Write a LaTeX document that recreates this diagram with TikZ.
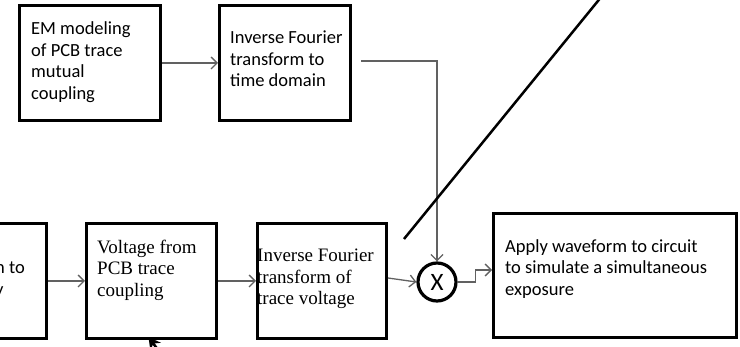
\documentclass[tikz,border=0pt]{standalone}
\usepackage{fontspec}
\setmainfont{Carlito}
\newfontfamily\serifb{Liberation Serif}
\usetikzlibrary{arrows.meta}
\begin{document}
\begin{tikzpicture}[x=1pt,y=-1pt,
  box/.style={draw, line width=3pt, inner sep=0pt, rectangle},
  txt/.style={inner sep=0pt, align=left, font=\fontsize{18.5}{21.5}\selectfont, anchor=west},
  stxt/.style={inner sep=0pt, align=left, font=\serifb\fontsize{19}{21.5}\selectfont, anchor=west},
  conn/.style={draw=black!62, line width=1.3pt, -{Straight Barb[length=6pt,width=12pt]}},
  ]
\useasboundingbox (0,0) rectangle (740,347);
\clip (0,0) rectangle (740,347);

% boxes
\node[box, minimum width=141pt, minimum height=115pt] (b1) at (90,63) {};
\node[box, minimum width=131pt, minimum height=115pt] (b2) at (285,63) {};
\node[box, minimum width=96.5pt, minimum height=115pt] (part) at (-1.75,281) {};
\node[box, minimum width=130pt, minimum height=115pt] (volt) at (151.5,281) {};
\node[box, minimum width=129pt, minimum height=115pt] (bif) at (322,281) {};
\node[box, minimum width=243pt, minimum height=124pt] (apply) at (615,275.5) {};
\node[circle, draw, line width=3.2pt, minimum size=38pt, inner sep=0pt,
      font=\fontsize{25}{25}\selectfont] (circ) at (437,282) {X};

% texts
\node[txt] (t1) at (31,62) {EM modeling\\of PCB trace\\mutual\\coupling};
\node[txt] (t2) at (230,59) {Inverse Fourier\\transform to\\time domain};
\node[txt] (tp) at (-5,280) {n to\\y};
\node[stxt] (tv) at (97,270) {Voltage from\\PCB trace\\coupling};
\node[stxt] (tb) at (257,279) {Inverse Fourier\\transform of\\trace voltage};
\node[txt] (ta) at (505,269) {Apply waveform to circuit\\to simulate a simultaneous\\exposure};

% connectors
\draw[conn] (b1.east) -- (b2.west);
\draw[conn, shorten <=9pt] ([yshift=2pt]b2.east) -| (circ.north);
\draw[conn] (part.east) -- (volt.west);
\draw[conn] (volt.east) -- (bif.west);
\draw[conn] ([yshift=3pt]bif.east) -- (circ.west);
\draw[conn] (circ.east) -- ++(18,0) -- ++(0,-12) coordinate (j2) -- (j2 -| apply.west);

% free lines
\coordinate (d1) at (404,239);
\coordinate (d2) at (602,-4);
\draw[line width=2.5pt] (d1) -- (d2);
\coordinate (tail) at (164,358);
\draw[line width=2.5pt, -{Stealth[length=12pt,width=13pt]}] (tail) -- ([xshift=-3pt,yshift=3pt]volt.south);
\end{tikzpicture}
\end{document}
